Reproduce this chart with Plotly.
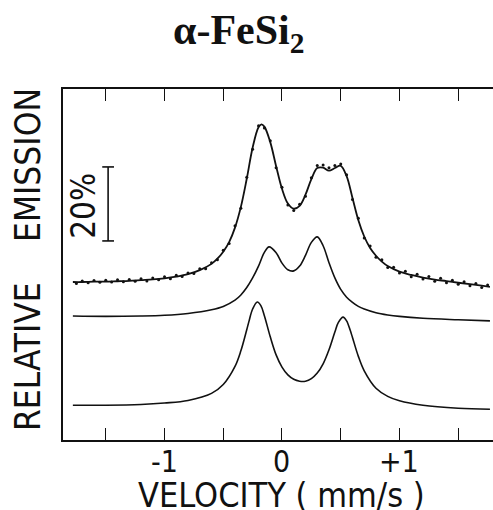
import plotly.graph_objects as go

# ---- data (velocity in mm/s, relative emission in %) ----
v_data = [-1.75, -1.70, -1.65, -1.60, -1.55, -1.50, -1.45, -1.40, -1.35, -1.30,
          -1.25, -1.20, -1.15, -1.10, -1.05, -1.00, -0.95, -0.90, -0.85, -0.80,
          -0.75, -0.70, -0.65, -0.60, -0.55, -0.50, -0.45, -0.40, -0.35, -0.30,
          -0.25, -0.20, -0.15, -0.10, -0.05, 0.00, 0.05, 0.10, 0.15, 0.20,
          0.25, 0.30, 0.35, 0.40, 0.45, 0.50, 0.55, 0.60, 0.65, 0.70,
          0.75, 0.80, 0.85, 0.90, 0.95, 1.00, 1.05, 1.10, 1.15, 1.20,
          1.25, 1.30, 1.35, 1.40, 1.45, 1.50, 1.55, 1.60, 1.65, 1.70, 1.75]
y_data = [42.3, 43.0, 42.5, 43.1, 42.6, 43.2, 42.7, 43.3, 42.8, 43.4,
          42.9, 43.6, 43.0, 43.8, 43.3, 44.1, 43.6, 44.5, 44.2, 45.1,
          45.0, 46.3, 46.3, 47.9, 48.7, 51.3, 53.1, 57.9, 62.6, 71.0,
          78.6, 84.9, 84.3, 80.9, 73.6, 68.3, 63.5, 62.0, 63.7, 65.9,
          70.9, 74.2, 74.3, 73.6, 74.2, 74.6, 71.7, 65.0, 59.9, 54.6,
          52.4, 49.4, 48.7, 46.6, 46.7, 45.1, 45.6, 44.1, 44.8, 43.5,
          44.2, 42.9, 43.7, 42.5, 43.2, 42.1, 42.8, 41.7, 42.3, 41.2, 41.9]

v_fit = [-1.78, -1.70, -1.60, -1.50, -1.40, -1.30, -1.20, -1.10, -1.00, -0.90,
         -0.80, -0.70, -0.60, -0.55, -0.50, -0.45, -0.40, -0.35, -0.30, -0.25,
         -0.20, -0.175, -0.15, -0.10, -0.05, 0.00, 0.05, 0.10, 0.15, 0.20,
         0.25, 0.30, 0.35, 0.40, 0.45, 0.50, 0.55, 0.60, 0.65, 0.70,
         0.75, 0.80, 0.85, 0.90, 1.00, 1.10, 1.20, 1.30, 1.40, 1.50, 1.60, 1.70, 1.77]
y_fit = [42.7, 42.7, 42.8, 42.8, 42.9, 43.0, 43.2, 43.4, 43.7, 44.15,
         44.8, 45.9, 47.6, 49.0, 50.9, 53.5, 57.4, 63.0, 70.6, 79.0,
         84.5, 85.3, 84.7, 80.5, 74.0, 67.9, 63.9, 62.5, 63.3, 66.3,
         70.5, 73.5, 73.6, 72.8, 73.5, 74.1, 71.3, 65.4, 59.4, 55.0,
         51.9, 49.8, 48.2, 47.0, 45.5, 44.6, 43.9, 43.35, 42.95, 42.5, 42.1, 41.7, 41.4]

v_middle = [-1.78, -1.5, -1.2, -1.0, -0.8, -0.6, -0.5, -0.4, -0.35, -0.3,
            -0.25, -0.2, -0.15, -0.11, -0.05, 0.0, 0.05, 0.1, 0.15, 0.2,
            0.25, 0.3, 0.35, 0.4, 0.45, 0.5, 0.55, 0.6, 0.65, 0.7,
            0.8, 0.9, 1.0, 1.2, 1.5, 1.77]
y_middle = [33.5, 33.4, 33.5, 33.7, 34.2, 35.2, 36.1, 37.8, 39.2, 41.2,
            43.8, 47.0, 50.7, 52.2, 50.6, 47.8, 46.0, 45.7, 47.0, 49.9,
            53.4, 54.9, 52.5, 47.9, 43.8, 40.7, 38.6, 37.2, 36.1, 35.4,
            34.4, 33.8, 33.4, 32.9, 32.5, 32.2]

v_bottom = [-1.78, -1.5, -1.2, -1.0, -0.8, -0.6, -0.5, -0.4, -0.35, -0.3,
            -0.28, -0.25, -0.21, -0.18, -0.15, -0.1, -0.05, 0.0, 0.05, 0.1,
            0.15, 0.2, 0.25, 0.3, 0.35, 0.4, 0.45, 0.48, 0.52, 0.55,
            0.58, 0.6, 0.65, 0.7, 0.8, 0.9, 1.0, 1.2, 1.5, 1.77]
y_bottom = [9.4, 9.4, 9.6, 10.0, 10.7, 12.6, 15.0, 19.9, 24.1, 29.8,
            32.2, 35.4, 37.3, 36.3, 33.6, 27.9, 23.0, 19.7, 17.6, 16.4,
            15.9, 15.9, 16.6, 18.1, 20.6, 24.4, 29.2, 31.8, 33.2, 32.2,
            29.7, 27.7, 22.6, 18.7, 14.0, 11.8, 10.6, 9.4, 8.6, 8.3]

tick_vals = [-1.5, -1.0, -0.5, 0.0, 0.5, 1.0, 1.5]
label_vals = [-1.0, 0.0, 1.0]
label_text = ["-1", "0", "+1"]

scale_bar_pct = 20
scale_bar_x = -1.48
scale_bar_base = 53.8

SANS = "Liberation Sans Narrow, DejaVu Sans Condensed, Liberation Sans, sans-serif"
BLACK = "#111111"

fig = go.Figure()
fig.add_trace(go.Scatter(x=v_bottom, y=y_bottom, mode="lines",
                         line=dict(color=BLACK, width=1.6, shape="spline"),
                         showlegend=False))
fig.add_trace(go.Scatter(x=v_middle, y=y_middle, mode="lines",
                         line=dict(color=BLACK, width=1.6, shape="spline"),
                         showlegend=False))
fig.add_trace(go.Scatter(x=v_fit, y=y_fit, mode="lines",
                         line=dict(color=BLACK, width=1.8, shape="spline"),
                         showlegend=False))
fig.add_trace(go.Scatter(x=v_data, y=y_data, mode="markers",
                         marker=dict(color=BLACK, size=3),
                         showlegend=False))

# 20% scale bar
cap = 0.05
fig.add_shape(type="line", xref="x", yref="y", x0=scale_bar_x, x1=scale_bar_x,
              y0=scale_bar_base, y1=scale_bar_base + scale_bar_pct,
              line=dict(color=BLACK, width=1.6))
for yy in (scale_bar_base, scale_bar_base + scale_bar_pct):
    fig.add_shape(type="line", xref="x", yref="y", x0=scale_bar_x - cap,
                  x1=scale_bar_x + cap, y0=yy, y1=yy,
                  line=dict(color=BLACK, width=1.6))

annotations = [
    dict(text="<b>α-FeSi<sub>2</sub></b>", xref="paper", yref="paper",
         x=0.407, y=1.16, xanchor="center", yanchor="middle",
         showarrow=False,
         font=dict(family="Liberation Serif, Times New Roman, serif", size=42, color=BLACK)),
    dict(text="EMISSION", xref="paper", yref="paper", x=-0.0814, y=0.7835,
         xanchor="center", yanchor="middle", textangle=-90, showarrow=False,
         font=dict(family=SANS, size=35, color=BLACK)),
    dict(text="RELATIVE", xref="paper", yref="paper", x=-0.0814, y=0.239,
         xanchor="center", yanchor="middle", textangle=-90, showarrow=False,
         font=dict(family=SANS, size=35, color=BLACK)),
    dict(text="20%", xref="paper", yref="paper", x=0.0488, y=0.667,
         xanchor="center", yanchor="middle", textangle=-90, showarrow=False,
         font=dict(family=SANS, size=33, color=BLACK)),
    dict(text="VELOCITY ( mm/s )", xref="paper", yref="paper", x=0.507, y=-0.156,
         xanchor="center", yanchor="middle", showarrow=False,
         font=dict(family=SANS, size=34, color=BLACK)),
]
for v, t in zip(label_vals, label_text):
    annotations.append(dict(text=t, xref="x", yref="paper", x=v, y=-0.062,
                            xanchor="center", yanchor="middle", showarrow=False,
                            font=dict(family=SANS, size=30, color=BLACK)))

fig.update_layout(
    width=493, height=510,
    margin=dict(l=63, r=0, t=89, b=70),
    paper_bgcolor="white", plot_bgcolor="white",
    xaxis=dict(range=[-1.864, 1.796], tickvals=tick_vals, showticklabels=False,
               ticks="inside", ticklen=12, tickwidth=1.4, tickcolor=BLACK,
               showline=True, linecolor=BLACK, linewidth=1.6, mirror="ticks",
               showgrid=False, zeroline=False),
    yaxis=dict(range=[0, 94.86], showticklabels=False, ticks="",
               showline=True, linecolor=BLACK, linewidth=1.6, mirror=False,
               showgrid=False, zeroline=False),
    annotations=annotations,
)

fig.write_html("out.html")
